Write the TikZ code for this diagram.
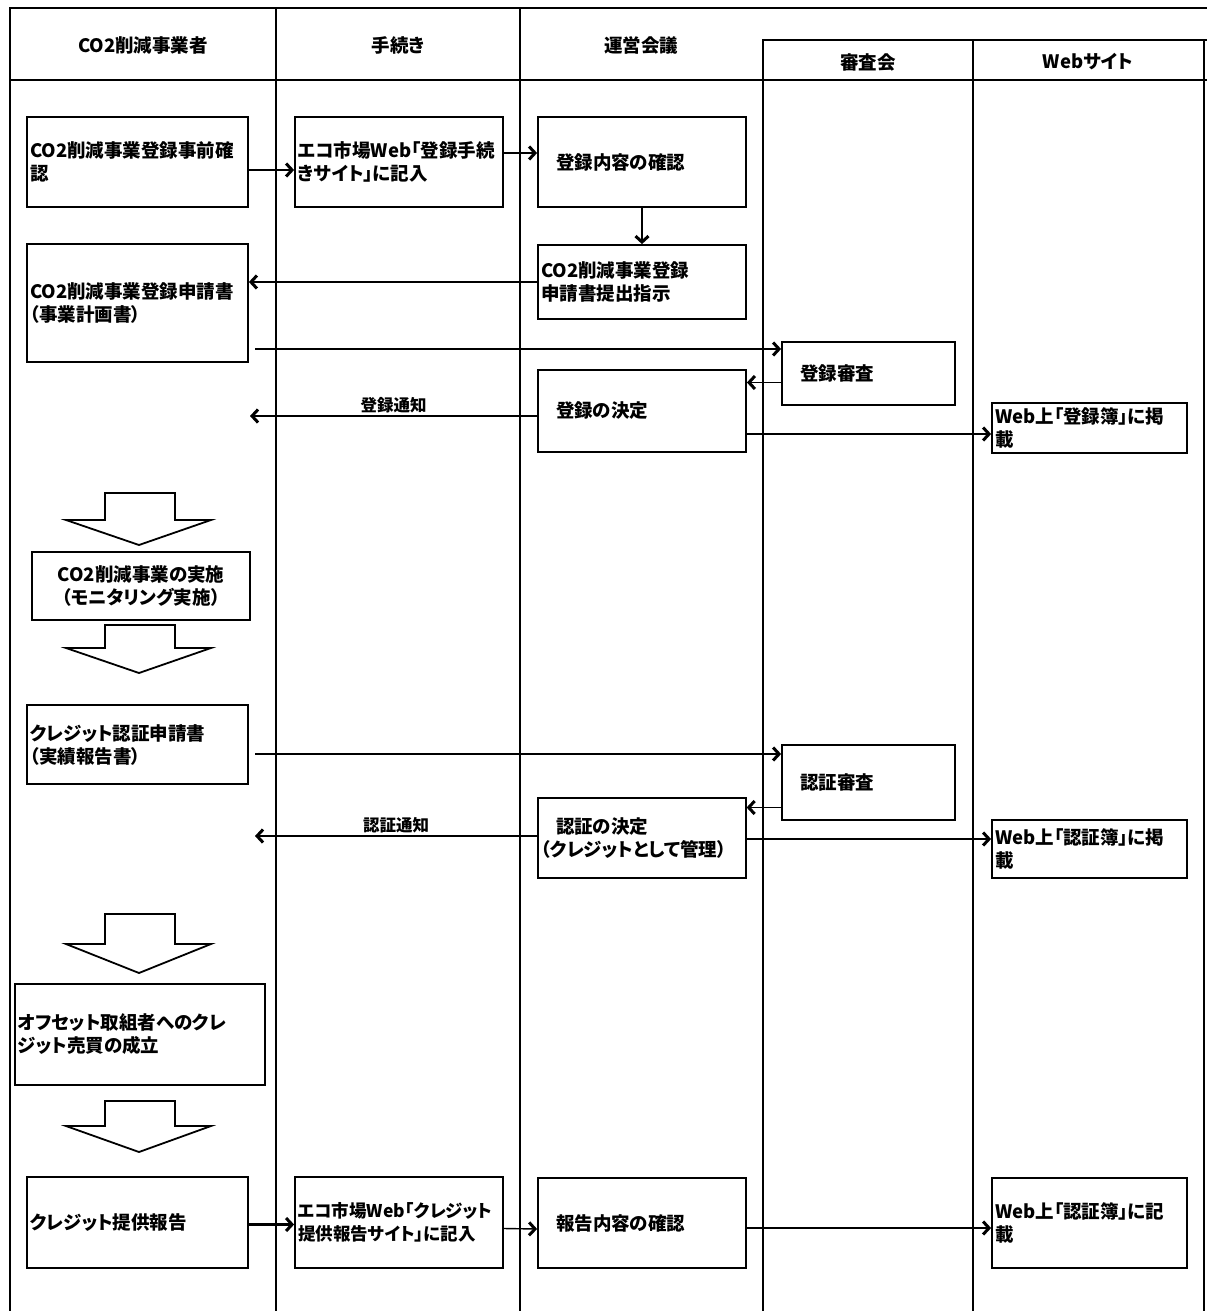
\documentclass[tikz,border=0pt]{standalone}
\usepackage{fontspec}
\setmainfont{Noto Sans CJK JP}[RawFeature=+palt]
\usetikzlibrary{arrows.meta, calc}

\begin{document}
\begin{tikzpicture}[x=1pt, y=-1pt,
  proc/.style={draw, rectangle, line width=1.8pt, inner xsep=3pt, inner ysep=0pt,
    align=left, font=\bfseries\fontsize{18.5}{23}\selectfont},
  actbox/.style={proc, text width=215pt},
  midbox/.style={proc, text width=202pt},
  webbox/.style={proc, text width=189pt},
  judgebox/.style={proc, text width=167pt},
  lane/.style={line width=2.6pt},
  thinlane/.style={line width=1.2pt},
  head/.style={font=\bfseries\fontsize{18.5}{22}\selectfont},
  flow/.style={-{Straight Barb[length=6pt, width=13pt, line width=3pt]}, line width=1.4pt},
  flowbold/.style={flow, line width=2.6pt},
  blockarrow/.style={draw, fill=white, line width=1.8pt, line join=miter},
  notice/.style={above, inner sep=2pt, font=\bfseries\fontsize{16.5}{19}\selectfont}]

\useasboundingbox (0,0) rectangle (1207,1311);

% --- swimlane frame ---
\draw[lane] (10,1311) -- (10,8) -- (1207,8);
\draw[lane] (276,8) -- (276,1311);
\draw[lane] (520,8) -- (520,1311);
\draw[lane] (763,1311) -- (763,40) -- (1207,40);
\draw[thinlane] (973,40) -- (973,1311);
\draw[lane] (1204,40) -- (1204,1311);
\draw[thinlane] (10,80) -- (1207,80);

% --- lane titles ---
\node[head] (hact) at (143,45) {CO2削減事業者};
\node[head] (hproc) at (398,45) {手続き};
\node[head] (hmeet) at (641,45) {運営会議};
\node[head] (hjudge) at (868,62) {審査会};
\node[head] (hweb) at (1088,62) {Webサイト};

% --- registration ---
\node[actbox, minimum height=90pt] (a1) at (137.5,162) {CO2削減事業登録事前確\\認};
\node[midbox, minimum height=90pt] (p1) at (399,162) {エコ市場Web「登録手続\\きサイト」に記入};
\node[midbox, minimum height=90pt] (m1) at (642,162) {\hspace*{15pt}登録内容の確認};
\node[midbox, minimum height=74pt] (m2) at (642,282) {CO2削減事業登録\\申請書提出指示};
\node[actbox, minimum height=118pt] (a2) at (137.5,303) {CO2削減事業登録申請書\\（事業計画書）};
\node[judgebox, minimum height=63pt] (j1) at (868.5,373.5) {\hspace*{15pt}登録審査};
\node[midbox, minimum height=82pt] (m3) at (642,411) {\hspace*{15pt}登録の決定};
\node[webbox, minimum height=50pt] (w1) at (1089.5,428) {Web上「登録簿」に掲\\載};

% --- implementation and credit ---
\node[proc, align=center, line width=2.2pt, minimum width=218pt, minimum height=68pt] (a3) at (141,586)
  {CO2削減事業の実施\\（モニタリング実施）};
\node[actbox, line width=1.2pt, minimum height=79pt] (a4) at (137.5,744.5) {クレジット認証申請書\\（実績報告書）};
\node[judgebox, minimum height=75pt] (j2) at (868.5,782.5) {\hspace*{15pt}認証審査};
\node[midbox, line width=1.2pt, minimum height=80pt] (m4) at (642,838) {\hspace*{15pt}認証の決定\\（クレジットとして管理）};
\node[webbox, minimum height=58pt] (w2) at (1089.5,849) {Web上「認証簿」に掲\\載};
\node[proc, line width=2.2pt, text width=244pt, minimum height=101pt] (a5) at (140,1034.5) {オフセット取組者へのクレ\\ジット売買の成立};

% --- credit report ---
\node[actbox, minimum height=91pt] (a6) at (137.5,1222.5) {クレジット提供報告};
\node[midbox, minimum height=91pt, font=\bfseries\fontsize{17.5}{23}\selectfont] (p2) at (399,1222.5)
  {エコ市場Web「クレジット\\提供報告サイト」に記入};
\node[midbox, minimum height=90pt] (m5) at (642,1223) {\hspace*{15pt}報告内容の確認};
\node[webbox, minimum height=90pt] (w3) at (1089.5,1223) {Web上「認証簿」に記\\載};

% --- hollow down arrows ---
\foreach \ytop/\ywing/\ytip in {493/520/545, 625/648/673, 914/944/973, 1101/1126/1152}
  \draw[blockarrow] (105,\ytop) -- (175,\ytop) -- (175,\ywing) -- (211,\ywing)
    -- (139,\ytip) -- (66,\ywing) -- (105,\ywing) -- cycle;

% --- free ends ---
\coordinate (a2out) at (255,349);
\coordinate (n1) at (250,416);
\coordinate (w1in) at ([yshift=-6pt]w1.west);
\coordinate (a4out) at (255,754);
\coordinate (j2out) at ([yshift=-25pt]j2.west);
\coordinate (n2) at (255,836);
\coordinate (w2in) at ([yshift=10pt]w2.west);

% --- connectors ---
\draw[flow] ([yshift=-8pt]a1.east) -- ([yshift=-8pt]p1.west);
\draw[flow] ([yshift=9pt]p1.east) -- ([yshift=9pt]m1.west);
\draw[flow] (m1) -- (m2);
\draw[flowbold] (m2.west) -- (m2.west -| a2.east);
\draw[flow] (a2out) -- (a2out -| j1.west);
\draw[flow] ([yshift=-9pt]j1.west) -- ([yshift=-9pt]j1.west -| m3.east);
\draw[flow] (n1 -| m3.west) -- node[notice] (lbl1) {登録通知} (n1);
\draw[flow] (w1in -| m3.east) -- (w1in);
\draw[flowbold] (a4out) -- (a4out -| j2.west);
\draw[flow] (j2out) -- (j2out -| m4.east);
\draw[flowbold] (n2 -| m4.west) -- node[notice] (lbl2) {認証通知} (n2);
\draw[flow] (w2in -| m4.east) -- (w2in);
\draw[flowbold] ([yshift=-2pt]a6.east) -- ([yshift=-2pt]p2.west);
\draw[flow] ([yshift=-6pt]p2.east) -- ([yshift=-6pt]m5.west);
\draw[flowbold] ([yshift=-5pt]m5.east) -- ([yshift=-5pt]w3.west);
\end{tikzpicture}
\end{document}
